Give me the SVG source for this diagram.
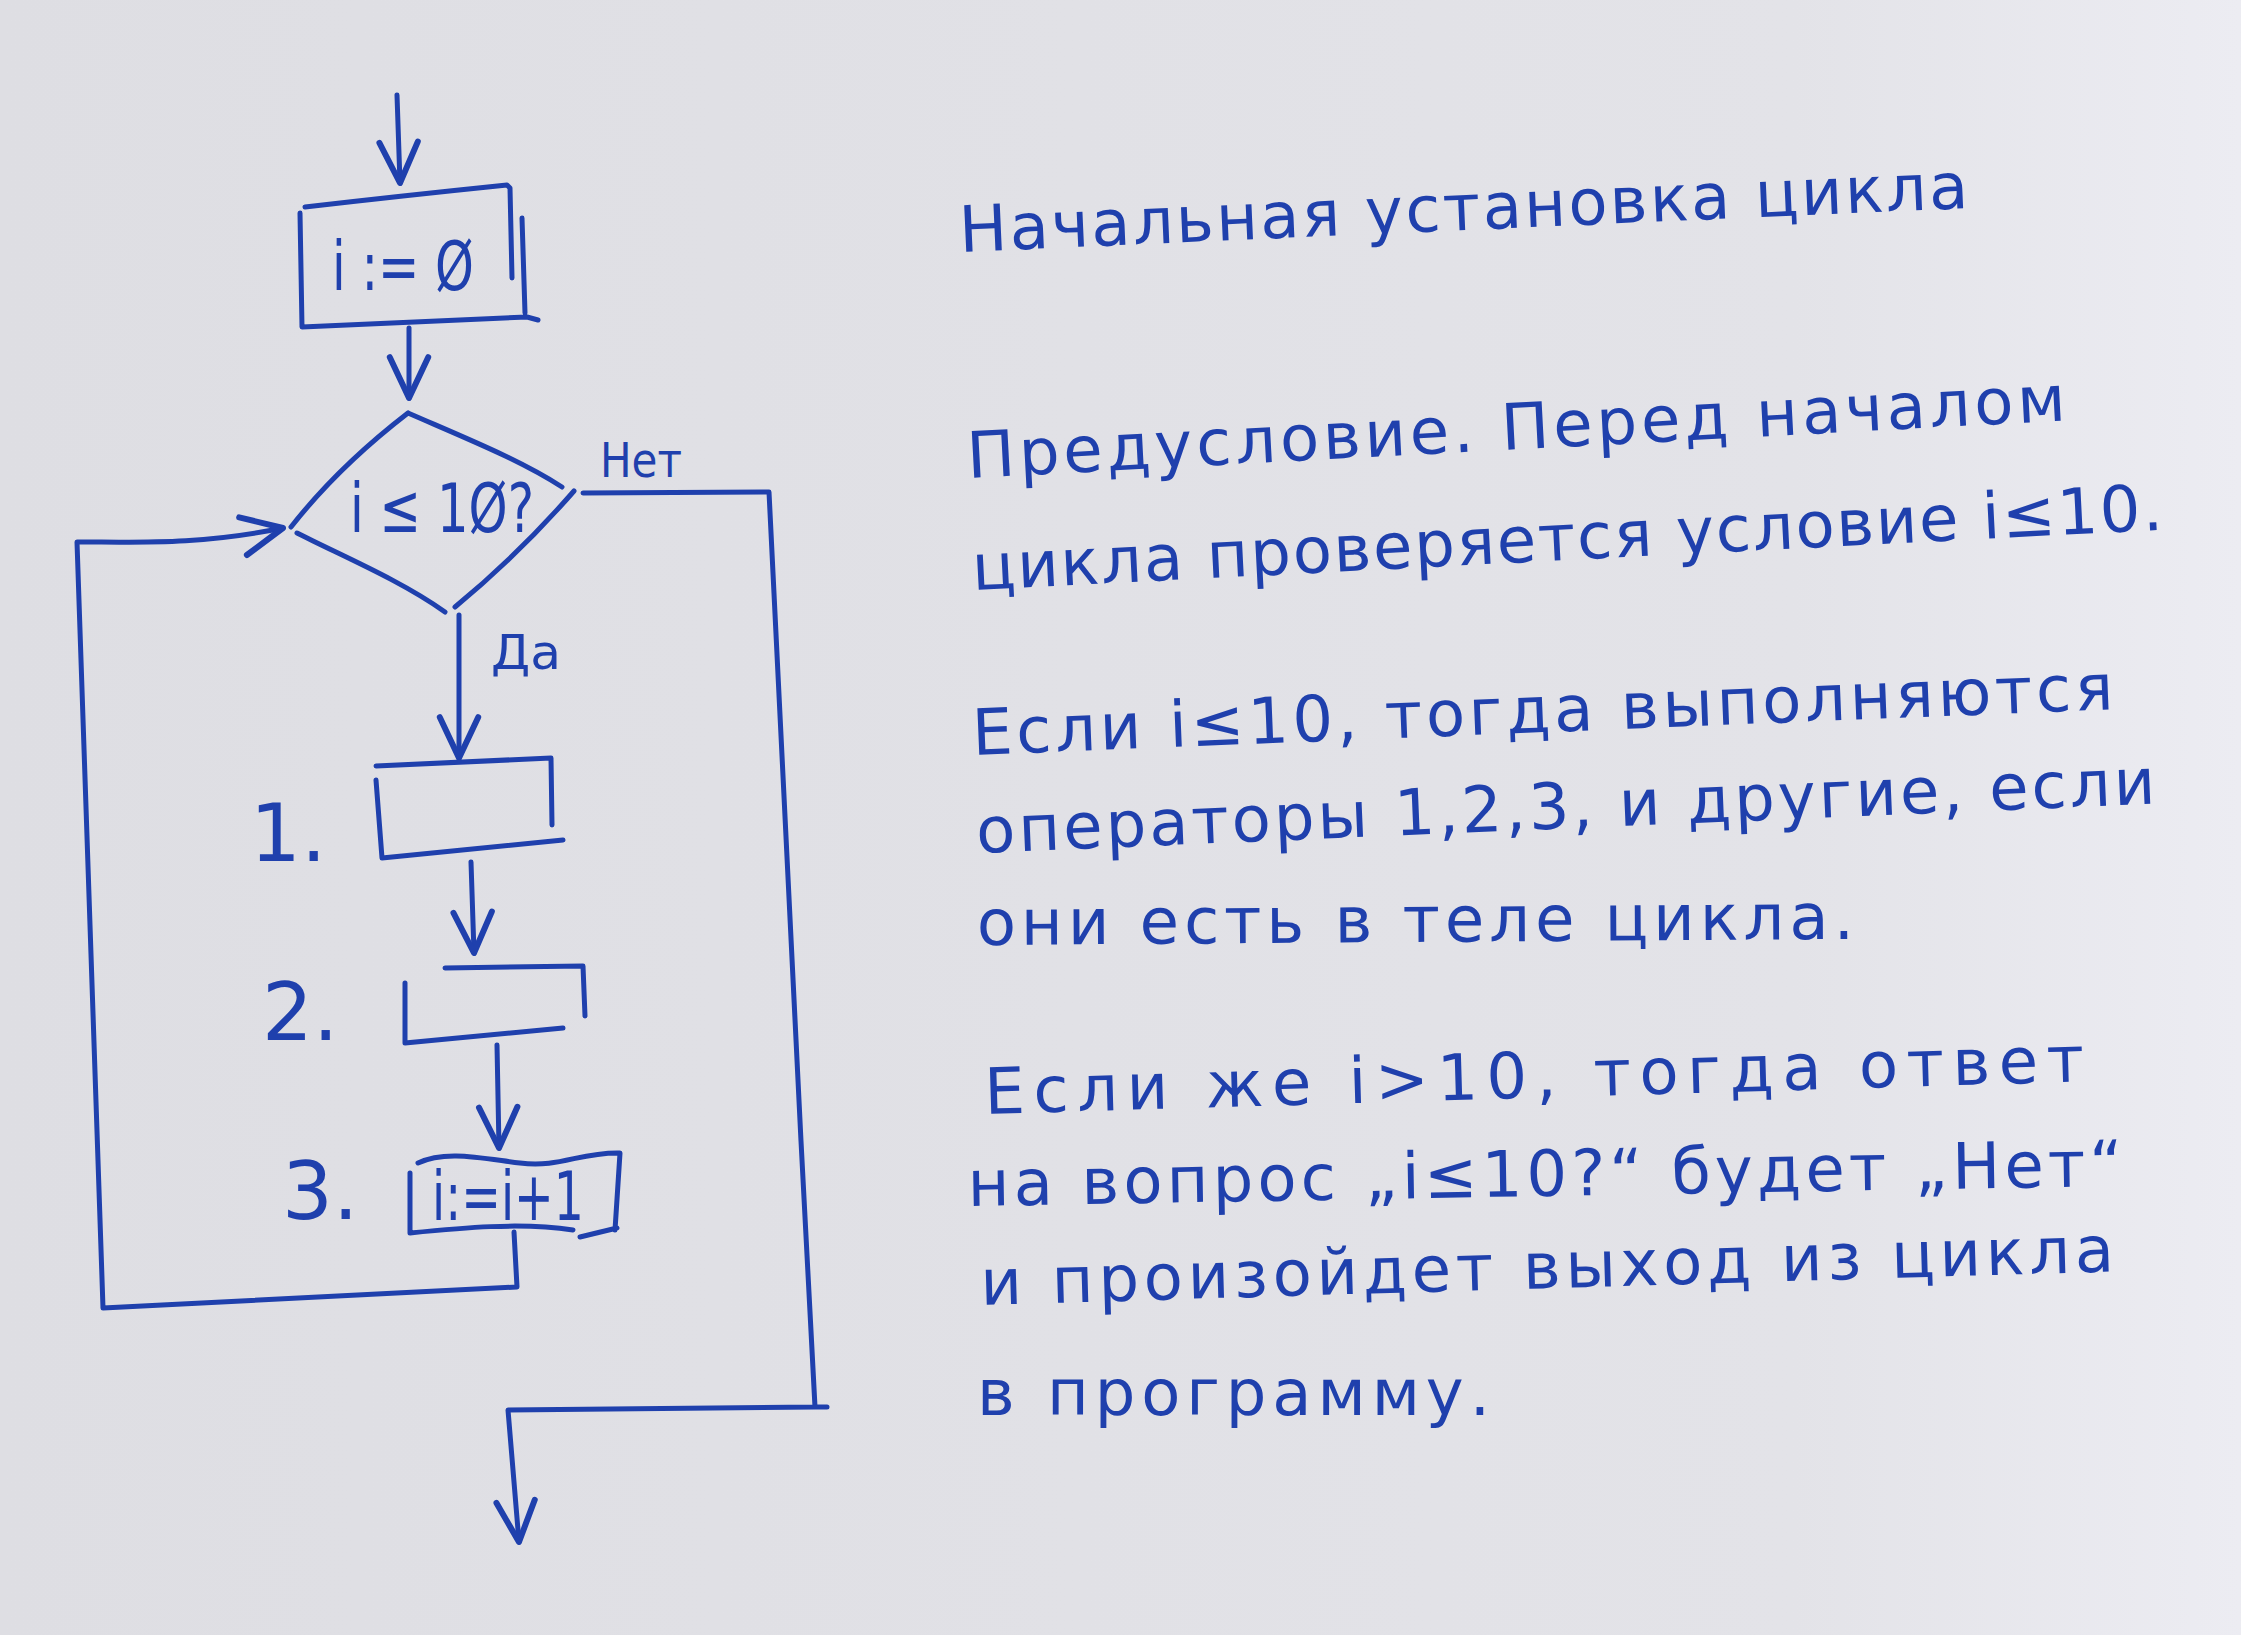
<svg xmlns="http://www.w3.org/2000/svg" width="2241" height="1635" viewBox="0 0 2241 1635">
  <defs>
    <linearGradient id="paper" x1="0" y1="0" x2="1" y2="0">
      <stop offset="0" stop-color="#dedee3"/>
      <stop offset="0.8" stop-color="#e3e3e8"/>
      <stop offset="1" stop-color="#ececf2"/>
    </linearGradient>
    <marker id="arrow" markerUnits="userSpaceOnUse" orient="auto" refX="0" refY="0" markerWidth="60" markerHeight="60" viewBox="-40 -25 45 50" overflow="visible">
      <path d="M-34,-16 L0,0 L-34,16" fill="none" stroke="#1f40ad" stroke-width="5" stroke-linecap="round" stroke-linejoin="round"/>
    </marker>
  </defs>
  <style>
    .ink { fill: none; stroke: #1f40ad; stroke-width: 5; stroke-linecap: round; stroke-linejoin: round; }
    .hw { font-family: "DejaVu Sans", "Liberation Sans", sans-serif; fill: #1f40ad; }
    .note { font-size: 64px; }
    .lbl { font-size: 48px; }
    .num { font-size: 80px; }
    .op { font-size: 68px; }
  </style>
  <rect x="0" y="0" width="2241" height="1635" fill="url(#paper)"/>

  <g id="connectors">
    <path class="ink" d="M397,95 L400,183" marker-end="url(#arrow)"/>
    <path class="ink" d="M409,328 L409,398" marker-end="url(#arrow)"/>
    <path class="ink" d="M459,615 L459,758" marker-end="url(#arrow)"/>
    <path class="ink" d="M471,862 L474,953" marker-end="url(#arrow)"/>
    <path class="ink" d="M497,1045 L499,1148" marker-end="url(#arrow)"/>
    <path class="ink" d="M514,1232 L517,1287 L103,1308 L77,542 C140,542 200,545 283,528" marker-end="url(#arrow)"/>
    <path class="ink" d="M583,493 L769,492 L801,1141 L815,1407 L827,1407 M815,1407 L508,1410 L519,1542" marker-end="url(#arrow)"/>
  </g>

  <g id="n_init">
    <path class="ink" d="M305,207 Q400,196 507,185 L510,188 L512,278 M522,218 L525,313 M300,213 L302,327 L527,317 L538,320"/>
    <text class="hw op" x="403" y="290" text-anchor="middle" textLength="142" lengthAdjust="spacingAndGlyphs">i := Ø</text>
  </g>

  <g id="n_cond">
    <path class="ink" d="M408,413 C360,450 320,490 291,527 M408,413 C470,440 520,460 562,487 M574,491 C540,530 500,570 455,607 M297,533 C340,555 400,580 445,612"/>
    <text class="hw op" x="442" y="532" text-anchor="middle" textLength="184" lengthAdjust="spacingAndGlyphs">i ≤ 1Ø?</text>
    <text class="hw lbl" x="600" y="477" textLength="82" lengthAdjust="spacingAndGlyphs">Нет</text>
    <text class="hw lbl" x="491" y="669" textLength="70" lengthAdjust="spacingAndGlyphs">Да</text>
  </g>

  <g id="n_op1">
    <path class="ink" d="M376,766 L551,758 L552,825 M376,780 L382,858 L563,840"/>
    <text class="hw num" x="250" y="861">1.</text>
  </g>

  <g id="n_op2">
    <path class="ink" d="M445,968 L583,966 L585,1016 M405,983 L405,1043 L563,1028"/>
    <text class="hw num" x="262" y="1040">2.</text>
  </g>

  <g id="n_op3">
    <path class="ink" d="M418,1163 C445,1150 480,1158 520,1163 S580,1152 620,1153 L615,1230 M410,1173 L410,1233 C460,1228 520,1222 573,1230 M580,1237 L617,1228"/>
    <text class="hw op" x="508" y="1220" text-anchor="middle" textLength="152" lengthAdjust="spacingAndGlyphs">i:=i+1</text>
    <text class="hw num" x="282" y="1219">3.</text>
  </g>

  <g id="notes">
    <text class="hw note" x="960" y="252" textLength="1010" lengthAdjust="spacing" transform="rotate(-2.5 960 252)">Начальная установка цикла</text>
    <text class="hw note" x="968" y="478" textLength="1100" lengthAdjust="spacing" transform="rotate(-3 968 478)">Предусловие. Перед началом</text>
    <text class="hw note" x="973" y="590" textLength="1192" lengthAdjust="spacing" transform="rotate(-2.9 973 590)">цикла проверяется условие i≤10.</text>
    <text class="hw note" x="973" y="755" textLength="1142" lengthAdjust="spacing" transform="rotate(-2.3 973 755)">Если i≤10, тогда выполняются</text>
    <text class="hw note" x="977" y="853" textLength="1180" lengthAdjust="spacing" transform="rotate(-2.4 977 853)">операторы 1,2,3, и другие, если</text>
    <text class="hw note" x="977" y="945" textLength="877" lengthAdjust="spacing" transform="rotate(-0.4 977 945)">они есть в теле цикла.</text>
    <text class="hw note" x="985" y="1114" textLength="1100" lengthAdjust="spacing" transform="rotate(-1.7 985 1114)">Если же i&gt;10, тогда ответ</text>
    <text class="hw note" x="968" y="1206" textLength="1155" lengthAdjust="spacing" transform="rotate(-1 968 1206)">на вопрос „i≤10?“ будет „Нет“</text>
    <text class="hw note" x="981" y="1305" textLength="1134" lengthAdjust="spacing" transform="rotate(-1.7 981 1305)">и произойдет выход из цикла</text>
    <text class="hw note" x="977" y="1415" textLength="513" lengthAdjust="spacing">в программу.</text>
  </g>
</svg>
